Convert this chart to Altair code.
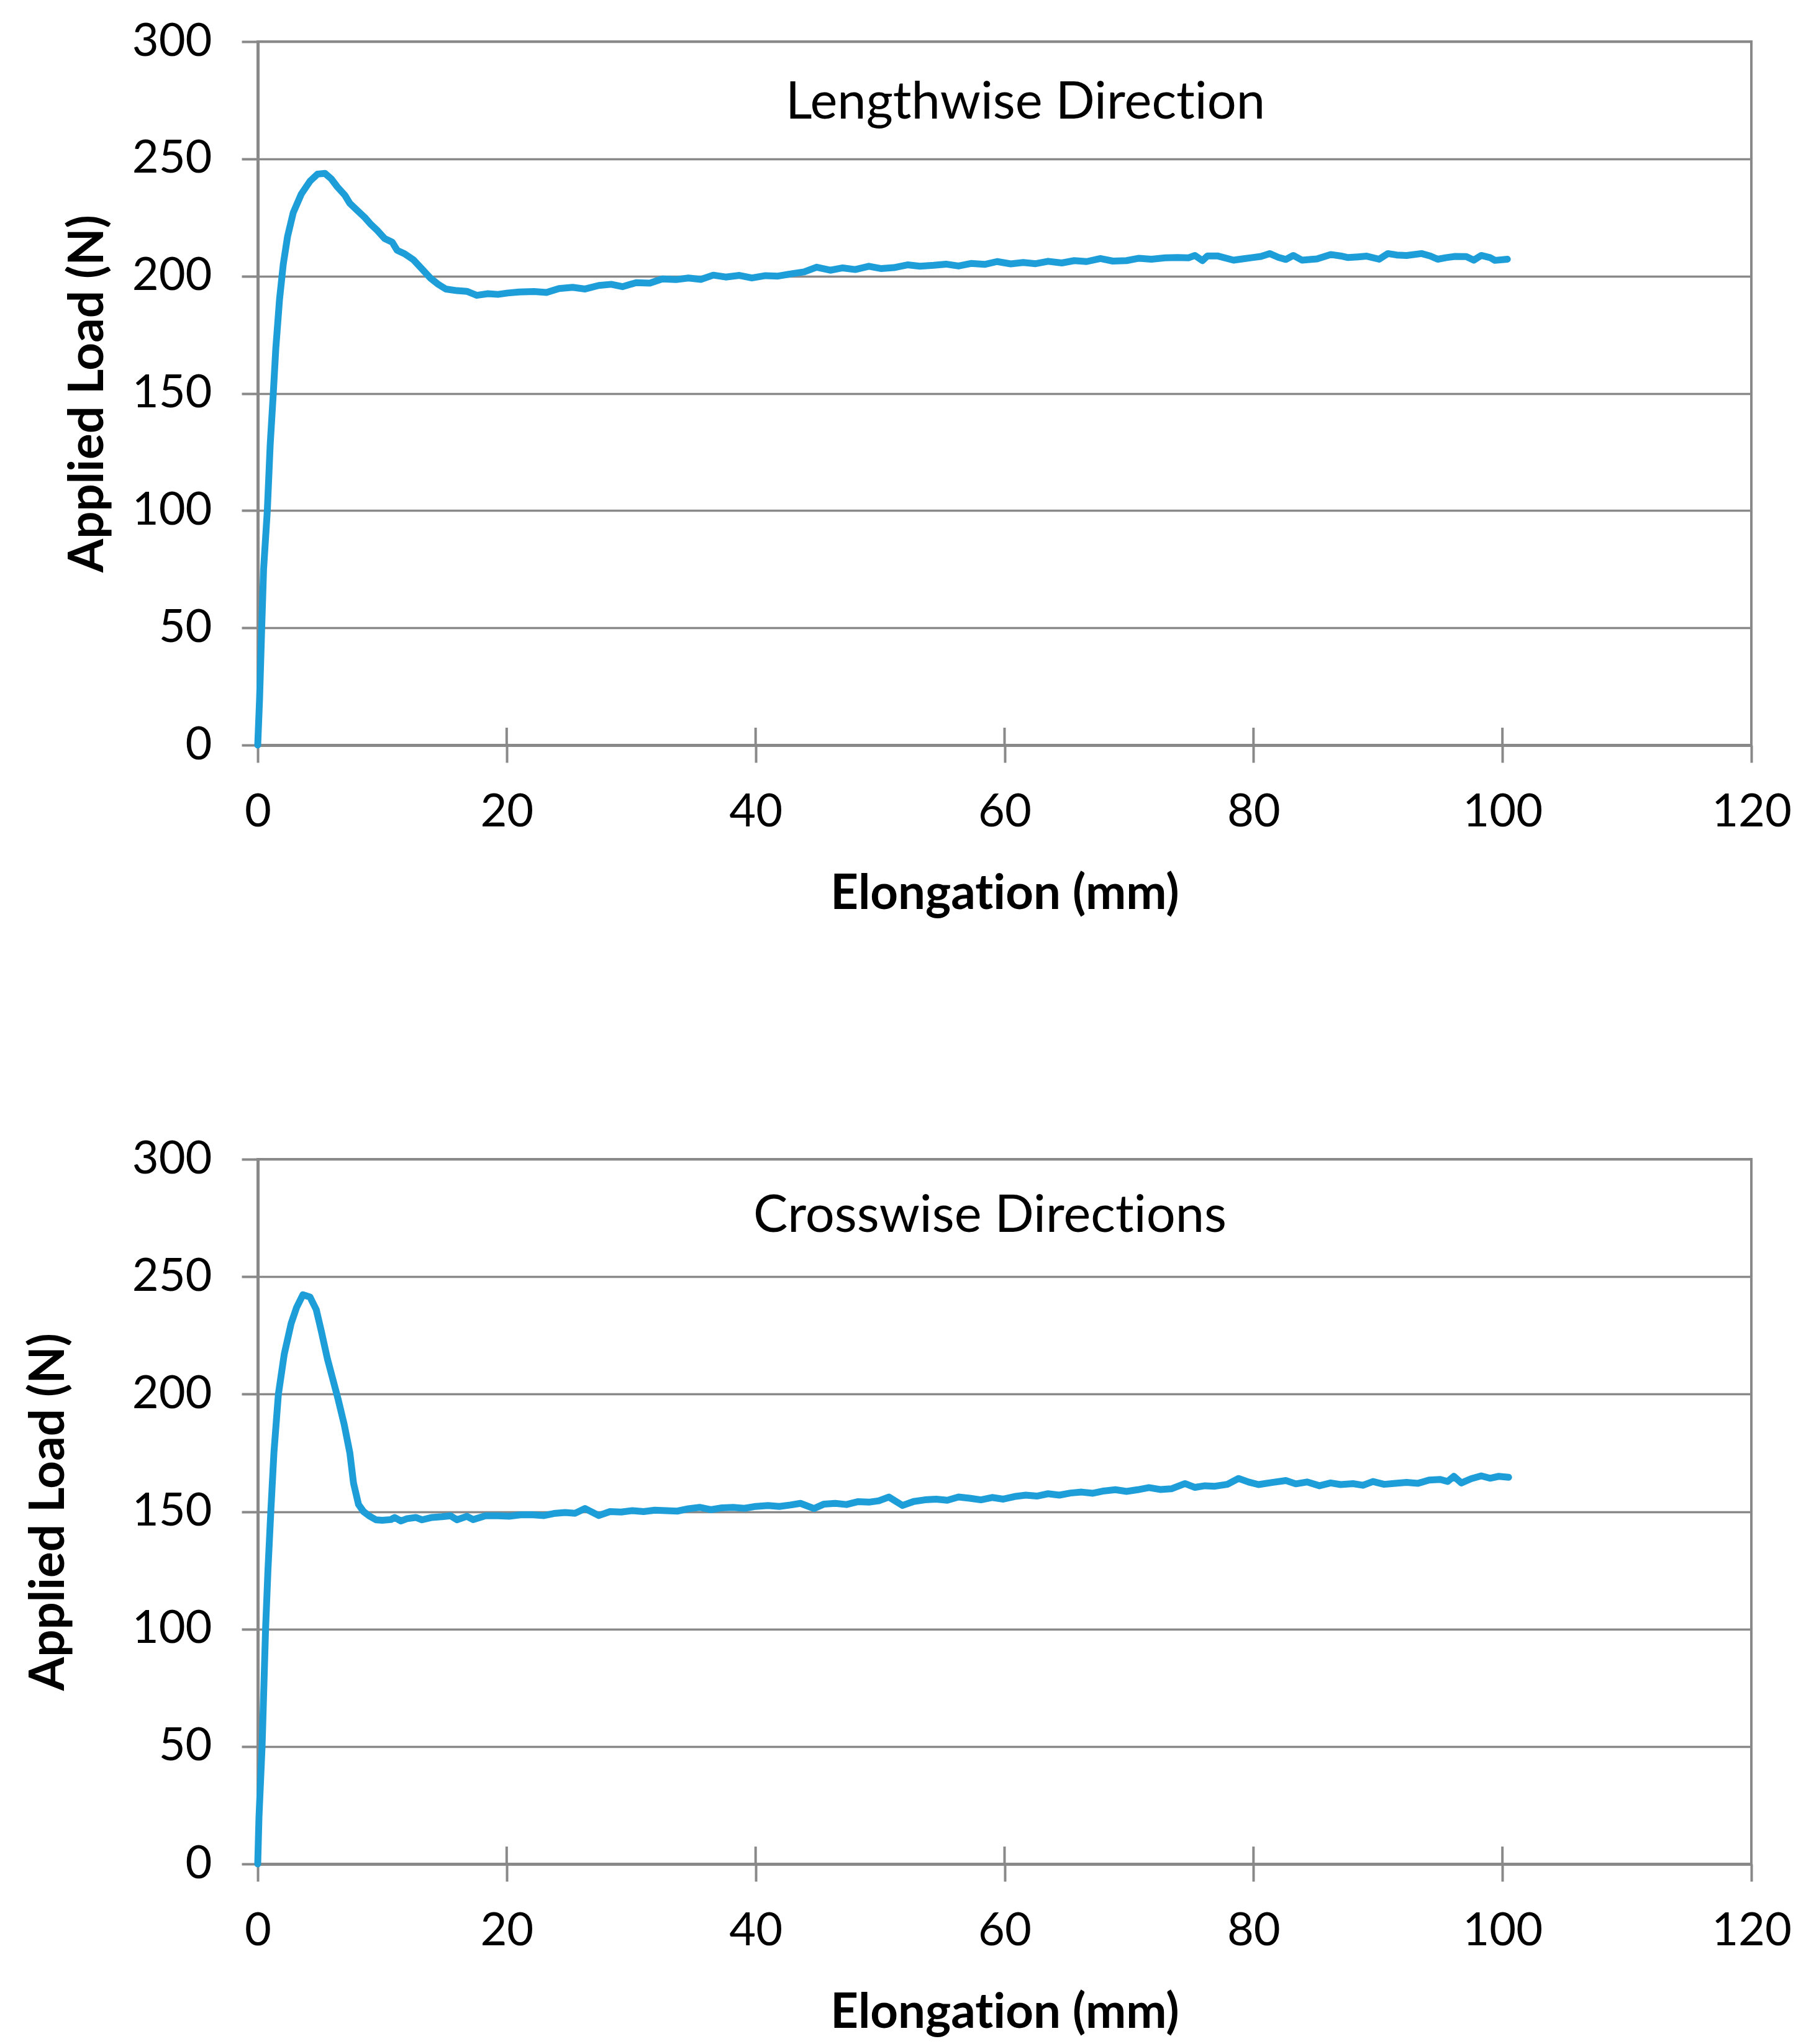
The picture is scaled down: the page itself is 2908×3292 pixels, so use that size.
import altair as alt
import pandas as pd

# ---- data ----
top_x = [0, 0.15, 0.32, 0.47, 0.77, 1.0, 1.25, 1.45, 1.75, 2.05, 2.4, 2.85, 3.5, 4.2, 4.8, 5.4, 5.9, 6.4,
         7.0, 7.4, 8.0, 8.6, 9.1, 9.6, 10.2, 10.8, 11.2, 11.8, 12.5, 13.2, 13.9, 14.5, 15.1, 16.0, 16.8,
         17.6, 18.5, 19.3, 20.1, 21.0, 22.2, 23.2, 24.2, 25.3, 26.3, 27.4, 28.4, 29.3, 30.4, 31.5, 32.5,
         33.6, 34.6, 35.6, 36.6, 37.6, 38.7, 39.7, 40.8, 41.8, 42.9, 43.9, 44.9, 46.0, 47.0, 48.0, 49.1,
         50.1, 51.1, 52.2, 53.2, 54.3, 55.3, 56.3, 57.3, 58.4, 59.4, 60.5, 61.5, 62.5, 63.5, 64.6, 65.6,
         66.6, 67.7, 68.7, 69.8, 70.8, 71.8, 72.9, 73.9, 74.8, 75.3, 75.9, 76.3, 77.1, 78.4, 79.2, 79.9,
         80.6, 81.3, 82.0, 82.6, 83.2, 83.9, 85.1, 86.2, 87.0, 87.6, 88.4, 89.1, 90.1, 90.8, 91.5, 92.3,
         93.5, 94.2, 94.8, 95.5, 96.2, 97.1, 97.7, 98.3, 99.0, 99.4, 100.4]
top_y = [0, 20, 50, 75, 100, 128, 150, 169, 190, 205, 217, 227, 235, 240.5, 243.5, 243.8, 241.5, 238,
         234.5, 231, 228, 225, 222, 219.5, 216, 214.5, 211, 209.5, 207, 203, 199, 196.5, 194.5, 193.8, 193.5,
         191.8, 192.5, 192.2, 192.8, 193.2, 193.4, 193.0, 194.7, 195.2, 194.5, 196.0, 196.5, 195.5, 197.2, 197.0, 198.8,
         198.5, 199.2, 198.6, 200.4, 199.6, 200.3, 199.2, 200.2, 200.0, 201.0, 201.8, 203.8, 202.5, 203.5, 202.8, 204.2,
         203.2, 203.6, 204.8, 204.2, 204.6, 205.1, 204.3, 205.4, 205.0, 206.2, 205.2, 205.8, 205.3, 206.3, 205.6, 206.6,
         206.2, 207.5, 206.4, 206.6, 207.6, 207.2, 207.8, 207.9, 207.8, 208.8, 206.6, 208.6, 208.6, 206.8, 207.4, 207.9,
         208.4, 209.6, 208.0, 207.1, 208.8, 206.8, 207.3, 209.2, 208.6, 207.9, 208.2, 208.5, 207.2, 209.6, 209.0, 208.8,
         209.6, 208.6, 207.2, 207.9, 208.4, 208.3, 206.8, 208.8, 207.9, 206.7, 207.2]

bot_x = [0, 0.1, 0.35, 0.63, 0.82, 1.05, 1.3, 1.66, 2.13, 2.68, 3.13, 3.63, 4.2, 4.7, 5.1, 5.6, 6.0, 6.45,
         6.95, 7.4, 7.7, 8.1, 8.5, 9.0, 9.5, 10.0, 10.7, 11.0, 11.5, 12.0, 12.7, 13.2, 14.0, 14.8, 15.5,
         16.0, 16.8, 17.3, 18.3, 19.3, 20.2, 21.1, 22.0, 23.0, 23.8, 24.7, 25.5, 26.3, 27.4, 28.3, 29.2,
         30.1, 31.0, 31.9, 32.8, 33.7, 34.6, 35.5, 36.4, 37.3, 38.2, 39.1, 40.0, 41.0, 41.9, 42.8, 43.6,
         44.7, 45.5, 46.4, 47.3, 48.2, 49.1, 49.9, 50.7, 51.8, 52.7, 53.6, 54.5, 55.4, 56.3, 57.2, 58.1,
         59.0, 59.9, 60.8, 61.7, 62.6, 63.5, 64.4, 65.3, 66.2, 67.1, 68.0, 68.9, 69.8, 70.7, 71.6, 72.5,
         73.4, 74.5, 75.3, 76.1, 76.9, 77.9, 78.8, 79.6, 80.4, 81.5, 82.6, 83.4, 84.3, 85.3, 86.2, 87.0,
         88.0, 88.8, 89.6, 90.5, 91.4, 92.3, 93.2, 94.1, 95.0, 95.6, 96.1, 96.7, 97.5, 98.3, 99.0, 99.7, 100.5]
bot_y = [0, 20, 50, 100, 125, 150, 175, 200, 217, 230, 237, 242.3, 241.3, 236, 227, 215, 207, 198,
         187, 175, 162, 153, 150, 148, 146.5, 146.3, 146.6, 147.5, 146.0, 147.0, 147.5, 146.5, 147.5, 147.8, 148.2,
         146.5, 148.0, 146.6, 148.2, 148.2, 148.0, 148.6, 148.7, 148.3, 149.2, 149.6, 149.3, 151.3, 148.3, 150.0, 149.8,
         150.4, 150.0, 150.6, 150.4, 150.2, 151.2, 151.8, 150.8, 151.6, 151.8, 151.4, 152.2, 152.6, 152.2, 152.8, 153.5,
         151.3, 153.2, 153.5, 153.0, 154.2, 154.0, 154.6, 156.2, 152.6, 154.3, 155.0, 155.3, 154.8, 156.2, 155.7, 155.0,
         156.0, 155.3, 156.4, 157.0, 156.6, 157.6, 157.0, 157.9, 158.3, 157.8, 158.8, 159.3, 158.6, 159.3, 160.2, 159.4,
         159.7, 161.9, 160.3, 161.0, 160.8, 161.6, 164.1, 162.6, 161.5, 162.4, 163.2, 161.8, 162.6, 161.0, 162.2, 161.5,
         161.9, 161.2, 162.8, 161.6, 162.0, 162.4, 162.0, 163.4, 163.7, 162.8, 165.0, 162.2, 164.0, 165.2, 164.2, 165.0, 164.6]

x_ticks = [0, 20, 40, 60, 80, 100, 120]
y_ticks = [0, 50, 100, 150, 200, 250, 300]
# zero-width non-joiner keeps "t"+"i" from forming a ligature in Lato
titles = ["Lengthwise Direct\u200cion", "Crosswise Direct\u200cions"]
x_title = "Elongat\u200cion (mm)"
y_title = "Applied Load (N)"

W = 2405
H_TOP = 1133
H_BOT = 1135
BLUE = "#1E9ED8"
GRAY = "#898989"


def panel(xs, ys, title, h, title_x, title_y, ytitle_pad):
    df = pd.DataFrame({"x": xs, "y": ys})
    xscale = alt.Scale(domain=[0, 120], nice=False, zero=False)
    yscale = alt.Scale(domain=[0, 300], nice=False)
    line = alt.Chart(df).mark_line(color=BLUE, strokeWidth=11, strokeJoin="round", strokeCap="round").encode(
        x=alt.X("x:Q", scale=xscale, title=x_title,
                axis=alt.Axis(values=x_ticks, grid=False, tickSize=28, labelPadding=44,
                              labelFlush=False, titlePadding=56)),
        y=alt.Y("y:Q", scale=yscale, title=y_title,
                axis=alt.Axis(values=y_ticks, grid=True, tickSize=26, labelPadding=48,
                              titlePadding=ytitle_pad)),
    )
    tick_df = pd.DataFrame({"t": x_ticks[1:-1]})
    inner_ticks = alt.Chart(tick_df).mark_rule(color=GRAY, strokeWidth=4).encode(
        x=alt.X("t:Q", scale=xscale),
        y=alt.value(h),
        y2=alt.value(h - 28),
    )
    tdf = pd.DataFrame({"label": [title]})
    txt = alt.Chart(tdf).mark_text(font="Lato", fontSize=83, color="black", align="center",
                                    baseline="middle").encode(
        text="label:N", x=alt.value(title_x), y=alt.value(title_y))
    return alt.layer(line, inner_ticks, txt).properties(width=W, height=h)


top = panel(top_x, top_y, titles[0], H_TOP, 1236, 99, 34)
bot = panel(bot_x, bot_y, titles[1], H_BOT, 1179, 92, 97)

chart = alt.vconcat(top, bot, spacing=347).properties(
    padding={"left": 30, "top": 20, "right": 5, "bottom": 5},
    background="white",
).configure_view(stroke=GRAY, strokeWidth=4).configure_axis(
    labelFont="Lato", labelFontSize=74, labelColor="black",
    titleFont="Lato", titleFontSize=78, titleFontWeight="bold", titleColor="black",
    gridColor=GRAY, gridWidth=3.5, domainColor=GRAY, domainWidth=5,
    tickColor=GRAY, tickWidth=4,
)

chart.save("out.html", embed_options={"renderer": "svg", "actions": False})
